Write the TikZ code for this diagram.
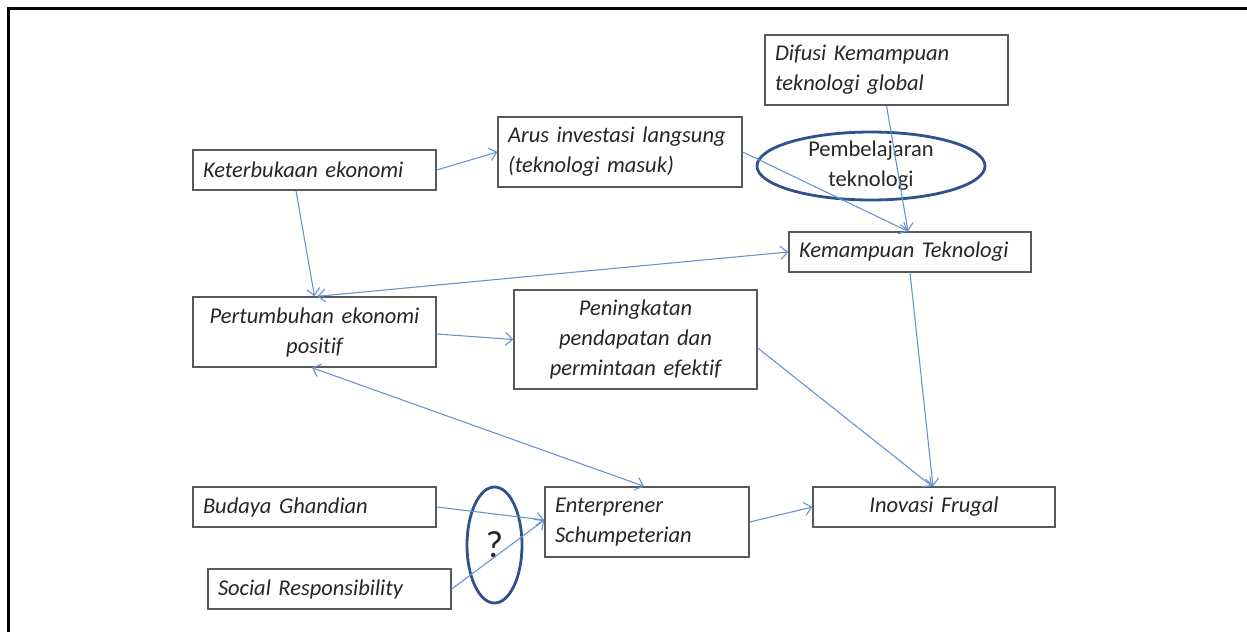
\documentclass[tikz,border=0pt]{standalone}
\usepackage{fontspec}
\setmainfont{Carlito}[Ligatures=NoCommon]
\usetikzlibrary{shapes.geometric,arrows.meta}
\definecolor{linkblue}{RGB}{104,148,208}
\definecolor{ringblue}{RGB}{47,82,143}
\definecolor{boxgrey}{RGB}{89,89,89}
\begin{document}
\begin{tikzpicture}[x=1pt,y=-1pt,
    >={Straight Barb[length=7pt,width=13pt]},
    box/.style={draw=boxgrey,line width=1.4pt,fill=white,inner xsep=10pt,inner ysep=0pt,
      minimum height=40pt,font=\fontsize{22.5}{30}\selectfont\itshape,text=black!85},
    lbox/.style={box,text width=#1,align=left},
    cbox/.style={box,text width=#1,align=center},
    ring/.style={draw=ringblue,line width=2.8pt,ellipse,inner xsep=0pt,inner ysep=-2pt,
      text=black!85},
    link/.style={draw=linkblue,line width=1.1pt}]
  \useasboundingbox (0,0) rectangle (1247,632);
  \draw[line width=3pt] (1247,8.5) -- (8.5,8.5) -- (8.5,632);
  \draw
    (314.5,170) node[lbox=223pt] (keterbukaan) {Keterbukaan ekonomi}
    (620,152) node[lbox=224pt,minimum height=70pt] (arus) {Arus investasi langsung\\(teknologi masuk)}
    (886.5,70) node[lbox=223pt,minimum height=70pt] (difusi) {Difusi Kemampuan\\teknologi global}
    (910,252) node[lbox=222pt] (kemampuan) {Kemampuan Teknologi}
    (314.5,332) node[cbox=223pt,minimum height=70pt] (pertumbuhan) {Pertumbuhan ekonomi\\positif}
    (635.5,339.5) node[cbox=223pt,minimum height=99pt] (peningkatan) {Peningkatan\\pendapatan dan\\permintaan efektif}
    (314.5,507) node[lbox=223pt] (budaya) {Budaya Ghandian}
    (329.5,589) node[lbox=223pt] (social) {Social Responsibility}
    (647,522) node[lbox=184pt,minimum height=70pt] (enterprener) {Enterprener\\Schumpeterian}
    (934,507) node[cbox=222pt] (inovasi) {Inovasi Frugal}
    (871,166) node[ring,minimum width=228pt,minimum height=68pt,align=center,
      font=\fontsize{22.5}{30}\selectfont] (belajar) {Pembelajaran\\teknologi}
    (494.5,545) node[ring,minimum width=55pt,minimum height=116pt,
      font=\fontsize{38}{40}\selectfont] (tanya) {?};
  \begin{scope}[link,->]
    \draw (keterbukaan.east) to (arus.west);
    \draw ([xshift=-18.5pt]keterbukaan.south) to (pertumbuhan.north);
    \draw[<->] (kemampuan.west) to ([xshift=3pt]pertumbuhan.north);
    \draw (arus.east) to ([xshift=-2pt]kemampuan.north);
    \draw (difusi.south) to ([xshift=-2pt]kemampuan.north);
    \draw (kemampuan.south) to ([xshift=-1pt]inovasi.north);
    \draw ([yshift=-8.5pt]peningkatan.east) to ([xshift=-2pt]inovasi.north);
    \draw ([yshift=-2pt]pertumbuhan.east) to (peningkatan.west);
    \draw[<->] ([xshift=-2.5pt]pertumbuhan.south) to ([xshift=-3pt]enterprener.north);
    \draw (budaya.east) to ([yshift=2pt]enterprener.west);
    \draw (social.east) to ([yshift=2pt]enterprener.west);
    \draw (enterprener.east) to (inovasi.west);
  \end{scope}
\end{tikzpicture}
\end{document}
